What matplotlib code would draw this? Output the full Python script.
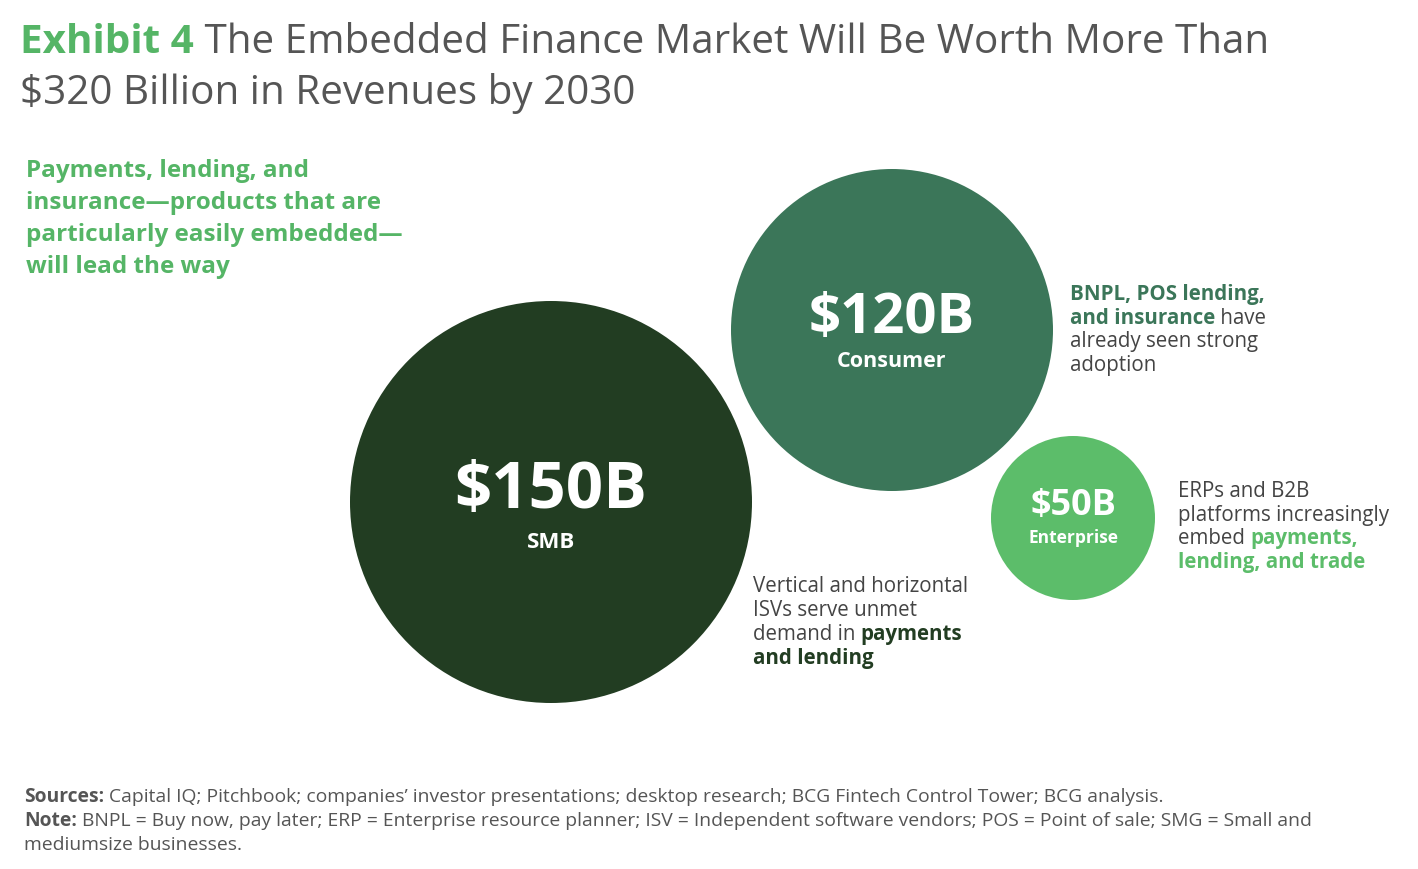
import matplotlib.pyplot as plt
from matplotlib.patches import Circle

# segment values (USD billions, 2030)
segments = ["SMB", "Consumer", "Enterprise"]
values = [150, 120, 50]
value_labels = ["$150B", "$120B", "$50B"]

title_lead = "Exhibit 4"
title_lines = [
    " The Embedded Finance Market Will Be Worth More Than",
    "$320 Billion in Revenues by 2030",
]
intro_lines = [
    "Payments, lending, and",
    "insurance\u2014products that are",
    "particularly easily embedded\u2014",
    "will lead the way",
]
# each note line is a list of (text, bold) runs
smb_note = [
    [("Vertical and horizontal", False)],
    [("ISVs serve unmet", False)],
    [("demand in ", False), ("payments", True)],
    [("and lending", True)],
]
consumer_note = [
    [("BNPL, POS lending,", True)],
    [("and insurance", True), (" have", False)],
    [("already seen strong", False)],
    [("adoption", False)],
]
enterprise_note = [
    [("ERPs and B2B", False)],
    [("platforms increasingly", False)],
    [("embed ", False), ("payments,", True)],
    [("lending, and trade", True)],
]
footer = [
    [("Sources:", True), (" Capital IQ; Pitchbook; companies\u2019 investor presentations; "
                          "desktop research; BCG Fintech Control Tower; BCG analysis.", False)],
    [("Note:", True), (" BNPL = Buy now, pay later; ERP = Enterprise resource planner; "
                       "ISV = Independent software vendors; POS = Point of sale; SMG = Small and", False)],
    [("mediumsize businesses.", False)],
]

# layout (pixel space of the 1418x870 canvas)
centers = [(551, 503), (892, 331), (1073, 519)]
radii = [201, 161, 82]
colors = ["#223d22", "#3b7659", "#5cbd6a"]
value_sizes = [47, 40.5, 26]
name_sizes = [16, 15.5, 12.5]
value_base = [508, 333, 515]
name_base = [548, 367, 543]

GREEN = "#55b566"
GRAY = "#444444"

plt.rcParams["font.family"] = ["Open Sans", "DejaVu Sans"]

fig = plt.figure(figsize=(14.18, 8.70), dpi=100)
ax = fig.add_axes([0, 0, 1, 1])
ax.set_xlim(0, 1418)
ax.set_ylim(870, 0)
ax.axis("off")
renderer = fig.canvas.get_renderer()


def draw_runs(x, y, runs, size, color, bold_color):
    # runs share one baseline; x advances by the rendered width of each run
    for text, bold in runs:
        c = bold_color if bold else color
        w = "bold" if bold else "normal"
        t = ax.text(x, y, text, fontsize=size, color=c, fontweight=w,
                    ha="left", va="baseline")
        bb = t.get_window_extent(renderer)
        x += bb.width * 1418 / fig.bbox.width


def draw_block(x, y0, lines, step, size, color, bold_color):
    for i, runs in enumerate(lines):
        draw_runs(x, y0 + i * step, runs, size, color, bold_color)


# title
draw_runs(20, 53, [(title_lead, True), (title_lines[0], False)], 29.1, "#555555", GREEN)
ax.text(20, 104, title_lines[1], fontsize=29.1, color="#555555", ha="left", va="baseline")

# intro
for i, line in enumerate(intro_lines):
    ax.text(26, 177 + i * 32, line, fontsize=17.5, color=GREEN, fontweight="bold",
            ha="left", va="baseline")

# bubbles
for i in range(len(segments)):
    ax.add_patch(Circle(centers[i], radii[i], color=colors[i], lw=0))
    ax.text(centers[i][0], value_base[i], value_labels[i], fontsize=value_sizes[i],
            color="white", fontweight="bold", ha="center", va="baseline")
    ax.text(centers[i][0], name_base[i], segments[i], fontsize=name_sizes[i],
            color="white", fontweight="bold", ha="center", va="baseline")

# notes
draw_block(753, 592, smb_note, 24, 14.8, GRAY, colors[0])
draw_block(1070, 300, consumer_note, 23.7, 14.8, GRAY, colors[1])
draw_block(1178, 497, enterprise_note, 23.7, 14.8, GRAY, colors[2])

# footer
draw_block(24, 802, footer, 24, 13.9, "#555555", "#555555")

fig.savefig("out.png", dpi=100)
